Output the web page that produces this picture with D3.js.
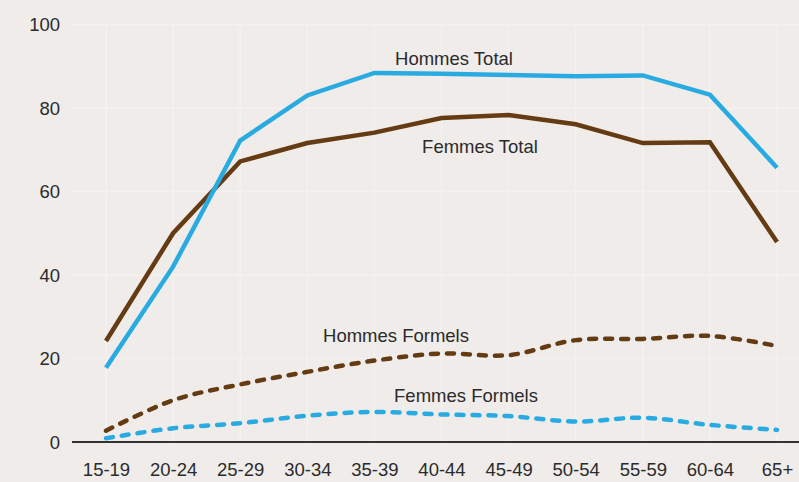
<!DOCTYPE html>
<html>
<head>
<meta charset="utf-8">
<script src="https://cdn.jsdelivr.net/npm/d3@7"></script>
<style>
  html, body { margin: 0; padding: 0; background: #efecea; }
  svg { display: block; }
  text { font-family: "Liberation Sans", Arial, Helvetica, sans-serif; fill: #2b2b2b; }
</style>
</head>
<body>
<svg id="chart" width="799" height="482"></svg>
<script>
const categories = ["15-19","20-24","25-29","30-34","35-39","40-44","45-49","50-54","55-59","60-64","65+"];
const hommesTotal   = [17.8, 42.0, 72.2, 83.0, 88.4, 88.2, 87.9, 87.6, 87.8, 83.2, 65.7];
const femmesTotal   = [24.2, 50.0, 67.2, 71.6, 74.1, 77.6, 78.3, 76.1, 71.6, 71.8, 47.9];
const hommesFormels = [2.7, 10.0, 13.8, 16.8, 19.5, 21.2, 20.8, 24.4, 24.7, 25.4, 23.0];
const femmesFormels = [0.9, 3.3, 4.5, 6.3, 7.2, 6.6, 6.2, 4.9, 5.8, 4.1, 2.9];
const yTicks = [0, 20, 40, 60, 80, 100];

const seriesLabels = ["Hommes Total", "Femmes Total", "Hommes Formels", "Femmes Formels"];

const svg = d3.select("#chart");
const W = 799, H = 482;
const blue = "#29abe2", brown = "#653b14";

const x = d3.scalePoint().domain(categories).range([106, 777]);
const y = d3.scaleLinear().domain([0, 100]).range([442, 24.5]);

// gridlines
const grid = svg.append("g");
grid.selectAll("line.h").data(yTicks.filter(d => d > 0)).join("line")
  .attr("x1", 70).attr("x2", W)
  .attr("y1", d => y(d)).attr("y2", d => y(d))
  .attr("stroke", "#f4f2f0").attr("stroke-width", 1.5);
grid.selectAll("line.v").data(categories).join("line")
  .attr("x1", d => x(d)).attr("x2", d => x(d))
  .attr("y1", y(100)).attr("y2", y(0))
  .attr("stroke", "#f4f2f0").attr("stroke-width", 1.5);

// y axis labels
const yAxis = d3.axisLeft(y).tickValues(yTicks).tickSize(0).tickPadding(0);
const gy = svg.append("g").attr("transform", "translate(60,0)").call(yAxis);
gy.select(".domain").remove();
gy.selectAll("text").attr("font-size", "18.5px").attr("dy", "0.35em")
  .style("font-family", "'Liberation Sans', Arial, sans-serif").attr("fill", "#2b2b2b");

// x axis labels
const xAxis = d3.axisBottom(x).tickSize(0).tickPadding(0);
const gx = svg.append("g").attr("transform", "translate(0,476)").call(xAxis);
gx.select(".domain").remove();
gx.selectAll("text").attr("font-size", "18.5px").attr("dy", 0)
  .style("font-family", "'Liberation Sans', Arial, sans-serif").attr("fill", "#2b2b2b");

// baseline
svg.append("line").attr("x1", 72).attr("x2", W).attr("y1", y(0)).attr("y2", y(0))
  .attr("stroke", "#333").attr("stroke-width", 2);

const lineStraight = d3.line().x((d, i) => x(categories[i])).y(d => y(d));
const lineSmooth = d3.line().x((d, i) => x(categories[i])).y(d => y(d)).curve(d3.curveCatmullRom.alpha(0.5));

svg.append("path").datum(femmesFormels).attr("d", lineSmooth)
  .attr("fill", "none").attr("stroke", blue).attr("stroke-width", 4.5)
  .attr("stroke-dasharray", "7,9").attr("stroke-linecap", "round");
svg.append("path").datum(hommesFormels).attr("d", lineSmooth)
  .attr("fill", "none").attr("stroke", brown).attr("stroke-width", 4.5)
  .attr("stroke-dasharray", "7,9").attr("stroke-linecap", "round");
svg.append("path").datum(femmesTotal).attr("d", lineStraight)
  .attr("fill", "none").attr("stroke", brown).attr("stroke-width", 4.5);
svg.append("path").datum(hommesTotal).attr("d", lineStraight)
  .attr("fill", "none").attr("stroke", blue).attr("stroke-width", 4.5);

// labels
const labelPos = [
  {t: seriesLabels[0], x: 454, y: 65},
  {t: seriesLabels[1], x: 480, y: 153},
  {t: seriesLabels[2], x: 396, y: 342},
  {t: seriesLabels[3], x: 466, y: 402}
];
svg.selectAll("text.lbl").data(labelPos).join("text")
  .attr("class", "lbl")
  .attr("x", d => d.x).attr("y", d => d.y)
  .attr("text-anchor", "middle").attr("font-size", "18.5px")
  .text(d => d.t);
</script>
</body>
</html>
